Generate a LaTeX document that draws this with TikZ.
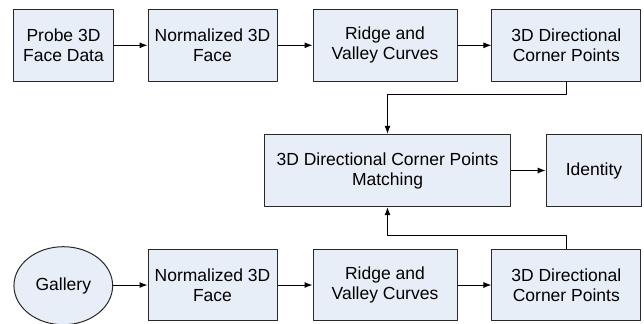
\documentclass[tikz,border=0pt]{standalone}
\usepackage{fontspec}
\setmainfont{Liberation Sans}
\usetikzlibrary{arrows.meta,shapes.geometric}
\definecolor{boxfill}{RGB}{232,238,247}
\definecolor{boxline}{RGB}{40,40,40}
\tikzset{
  blockbox/.style={draw=boxline,fill=boxfill,rectangle,inner sep=0pt,align=center,
    minimum height=71.5bp,font=\fontsize{17.5bp}{20bp}\selectfont},
  dbellipse/.style={draw=boxline,fill=boxfill,ellipse,inner sep=0pt,align=center,
    minimum width=98.7bp,minimum height=78bp,font=\fontsize{17.5bp}{20bp}\selectfont},
}
\begin{document}
\begin{tikzpicture}[>={Latex[length=8bp,width=6bp]},line join=bevel,x=1bp,y=-1bp]
  \pgfsetlinewidth{1bp}
  \useasboundingbox (0,0) rectangle (644,323);
%%
  % Node: Probe
  \node[blockbox,minimum width=99bp] (Probe) at (63.5,45.3) {Probe 3D\\Face Data};
  % Node: NormTop
  \node[blockbox,minimum width=129bp] (NormTop) at (212.5,45.3) {Normalized 3D\\Face};
  % Node: RidgeTop
  \node[blockbox,minimum width=144bp] (RidgeTop) at (385,45.3) {Ridge and\\Valley Curves};
  % Node: CornerTop
  \node[blockbox,minimum width=148.7bp] (CornerTop) at (566.3,45.3) {3D Directional\\Corner Points};
  % Node: Matching
  \node[blockbox,minimum width=246.4bp,minimum height=72.4bp] (Matching) at (387.5,170.5) {3D Directional Corner Points\\Matching};
  % Node: Identity
  \node[blockbox,minimum width=95.7bp,minimum height=72.4bp] (Identity) at (594,170.5) {Identity};
  % Node: Gallery
  \node[dbellipse] (Gallery) at (63.3,285.7) {Gallery};
  % Node: NormBot
  \node[blockbox,minimum width=129bp] (NormBot) at (212.5,285) {Normalized 3D\\Face};
  % Node: RidgeBot
  \node[blockbox,minimum width=144bp] (RidgeBot) at (385,285) {Ridge and\\Valley Curves};
  % Node: CornerBot
  \node[blockbox,minimum width=148.7bp] (CornerBot) at (566.3,285) {3D Directional\\Corner Points};
%
  % Edge: Probe -> NormTop -> RidgeTop -> CornerTop
  \draw [->] (Probe) -- (NormTop);
  \draw [->] (NormTop) -- (RidgeTop);
  \draw [->] (RidgeTop) -- (CornerTop);
  % Edge: CornerTop -> Matching
  \draw [->] (CornerTop.south) -- ++(0,13) -| (Matching.north);
  % Edge: Matching -> Identity
  \draw [->] (Matching) -- (Identity);
  % Edge: Gallery -> NormBot -> RidgeBot -> CornerBot
  \draw [->] (Gallery.east |- NormBot) -- (NormBot);
  \draw [->] (NormBot) -- (RidgeBot);
  \draw [->] (RidgeBot) -- (CornerBot);
  % Edge: CornerBot -> Matching
  \draw [->] (CornerBot.north) -- ++(0,-13.3) -| (Matching.south);
%
\end{tikzpicture}
\end{document}
